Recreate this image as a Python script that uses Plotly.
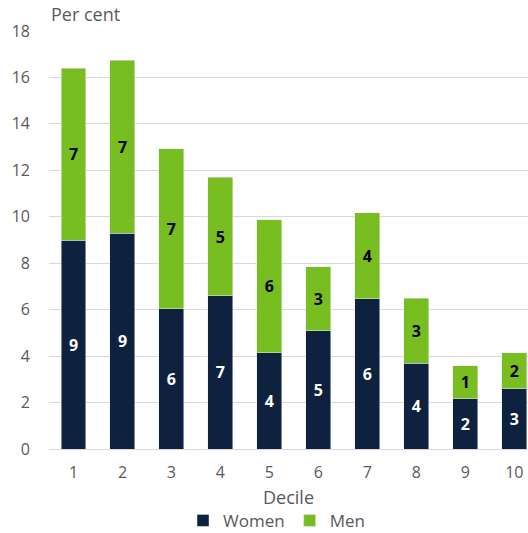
import plotly.graph_objects as go

deciles = ["1", "2", "3", "4", "5", "6", "7", "8", "9", "10"]
women = [9.0, 9.3, 6.03, 6.6, 4.14, 5.09, 6.47, 3.7, 2.16, 2.6]
men = [7.4, 7.45, 6.9, 5.1, 5.73, 2.75, 3.7, 2.8, 1.42, 1.55]
yticks = [0, 2, 4, 6, 8, 10, 12, 14, 16, 18]

font_family = "Open Sans, Lato, sans-serif"
xpos = list(range(1, len(deciles) + 1))

fig = go.Figure()
fig.add_trace(go.Bar(
    x=xpos, y=women, name="Women", marker_color="#0e2240",
    width=0.51,
    text=[str(int(round(v))) for v in women], textposition="inside",
    insidetextanchor="middle", textangle=0,
    textfont=dict(color="white", size=16, family=font_family, weight="bold"),
))
fig.add_trace(go.Bar(
    x=xpos, y=men, name="Men", marker_color="#78be20",
    width=0.51,
    text=[str(int(round(v))) for v in men], textposition="inside",
    insidetextanchor="middle", textangle=0,
    textfont=dict(color="black", size=16, family=font_family, weight="bold"),
))

fig.update_layout(
    barmode="stack",
    width=528, height=533,
    margin=dict(l=49, r=0, t=31, b=84, autoexpand=False),
    plot_bgcolor="white", paper_bgcolor="white",
    font=dict(family=font_family, color="#595959", size=16),
    xaxis=dict(
        range=[0.5, 10.28], tickmode="array", tickvals=xpos, ticktext=deciles,
        showgrid=False, showline=False, zeroline=False, ticks="",
        tickfont=dict(size=16, color="#595959"), ticklabelstandoff=12,
        title=dict(text="Decile", font=dict(size=18, color="#595959"), standoff=9),
    ),
    yaxis=dict(
        range=[0, 18], tickvals=yticks, showgrid=True, gridcolor="#d9d9d9",
        gridwidth=1, zeroline=True, zerolinecolor="#d9d9d9", zerolinewidth=1,
        ticks="", tickfont=dict(size=16, color="#595959"), ticklabelstandoff=18,
    ),
    legend=dict(
        orientation="h", x=0.475, xanchor="center", y=-0.172, yanchor="middle",
        font=dict(size=17, color="#595959"), itemwidth=30, traceorder="normal",
    ),
    bargap=0.49,
    uniformtext=dict(minsize=8, mode="show"),
    annotations=[dict(
        text="Per cent", xref="paper", yref="paper", x=0.0, y=1.0, yshift=3,
        xanchor="left", yanchor="bottom", showarrow=False,
        font=dict(size=18, color="#595959"),
    )],
)

fig.write_html("out.html")
